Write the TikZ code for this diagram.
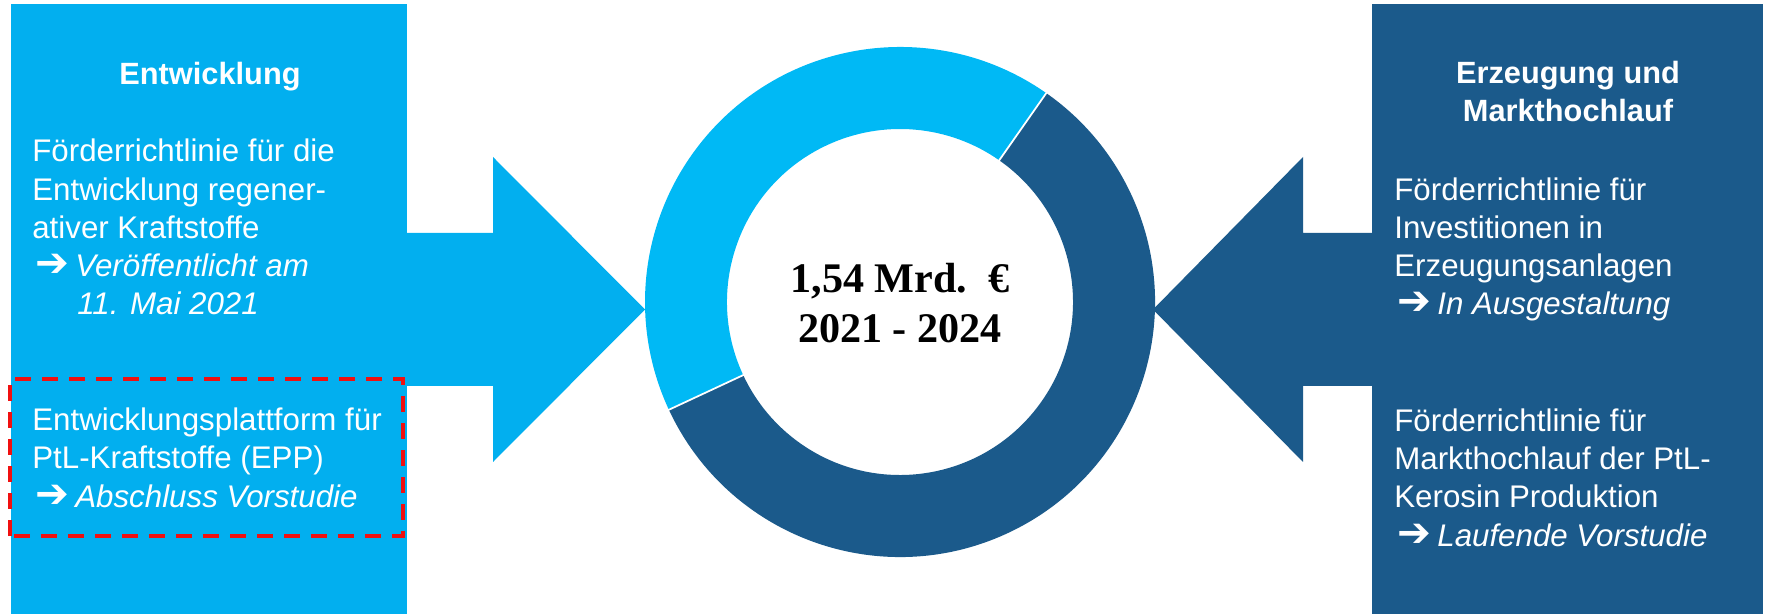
\documentclass[tikz,border=0pt]{standalone}
\usepackage{fontspec}
\setmainfont{Liberation Sans}
\newfontfamily\zahlfont{Liberation Serif}
\newfontfamily\pfeilfont{DejaVu Sans}
\usepackage{tikz}
\usetikzlibrary{calc}
\definecolor{hellblau}{HTML}{02AFEF}
\definecolor{ringhell}{HTML}{00B9F5}
\definecolor{dunkelblau}{HTML}{1B5A8B}
\definecolor{rahmenrot}{HTML}{F01010}
\def\pfeil{\hspace*{0.06cm}\makebox[0.8cm][l]{\pfeilfont\fontsize{23}{21.8}\selectfont ➔}}
\tikzset{
	titel/.style={text=white, font=\fontsize{17.5}{21.8}\selectfont\bfseries, align=center, inner sep=0pt, anchor=base},
	fliesstext/.style={text=white, font=\fontsize{17.8}{21.8}\selectfont, align=left, inner sep=0pt, anchor=base west},
	kreistext/.style={text=black, font=\fontsize{24}{29}\zahlfont\bfseries, align=center, inner sep=0pt, anchor=base}
}

\begin{document}
\begin{tikzpicture}[x=0.2mm, y=0.2mm]
			%%%%% START %%%%%
			\useasboundingbox (0, 0) rectangle (1770, 614);
			
			% Kaesten links und rechts
			\fill[hellblau] (11, 0) rectangle (407, 610);
			\fill[dunkelblau] (1372, 0) rectangle (1763, 610);
			
			% Pfeile
			\fill[hellblau] (400, 228) -- (493, 228) -- (493, 152) -- (645, 304.5) -- (493, 457) -- (493, 381) -- (400, 381) -- cycle;
			\fill[dunkelblau] (1380, 228) -- (1303, 228) -- (1303, 152) -- (1153, 304.5) -- (1303, 457) -- (1303, 381) -- (1380, 381) -- cycle;
			
			% Ring
			\fill[ringhell] ($(900, 312)+(55:255)$) arc (55:205:255) -- ($(900, 312)+(205:173)$) arc (205:55:173) -- cycle;
			\fill[dunkelblau] ($(900, 312)+(205:255)$) arc (205:415:255) -- ($(900, 312)+(415:173)$) arc (415:205:173) -- cycle;
			\draw[white, line width=0.35mm] ($(900, 312)+(55:171)$) -- ($(900, 312)+(55:258)$);
			\draw[white, line width=0.35mm] ($(900, 312)+(205:171)$) -- ($(900, 312)+(205:258)$);
			
			% (anchor base = letzte Zeile)
			\node[kreistext] (summe) at (900, 271) {1,54 Mrd.\ \ €\\2021 - 2024};
			
			% Entwicklung
			\node[titel] (titelEntw) at (210, 529) {Entwicklung};
			\node[fliesstext] (textEntw) at (32, 299) {Förderrichtlinie für die\\Entwicklung regener-\\ativer Kraftstoffe\\\pfeil\textit{Veröffentlicht am}\\\hspace*{0.9cm}\textit{11. Mai 2021}};
			
			\draw[rahmenrot, line width=0.7mm, dash pattern=on 3.2mm off 2.2mm] (10, 78) rectangle (403, 235);
			\node[fliesstext] (textEPP) at (32, 107) {Entwicklungsplattform für\\PtL-Kraftstoffe (EPP)\\\pfeil\textit{Abschluss Vorstudie}};
			
			% Erzeugung und Markthochlauf
			\node[titel] (titelErz) at (1568, 492) {Erzeugung und\\Markthochlauf};
			\node[fliesstext] (textInv) at (1394, 299) {Förderrichtlinie für\\Investitionen in\\Erzeugungsanlagen\\\pfeil\textit{In Ausgestaltung}};
			\node[fliesstext] (textMarkt) at (1394, 68) {Förderrichtlinie für\\Markthochlauf der PtL-\\Kerosin Produktion\\\pfeil\textit{Laufende Vorstudie}};
			%%%%% END %%%%%
\end{tikzpicture}
\end{document}
